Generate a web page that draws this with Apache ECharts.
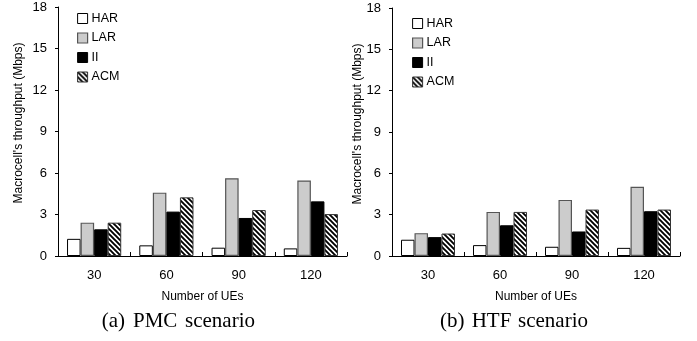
<!DOCTYPE html>
<html>
<head>
<meta charset="utf-8">
<script src="https://cdn.jsdelivr.net/npm/echarts@6/dist/echarts.min.js"></script>
<style>html,body{margin:0;padding:0;background:#fff}#c{width:697px;height:341px}</style>
</head>
<body>
<div id="c"></div>
<script>
// ---- data ----
const categories = ['30', '60', '90', '120'];
const seriesNames = ['HAR', 'LAR', 'II', 'ACM'];
const yTicks = [0, 3, 6, 9, 12, 15, 18];
// (a) PMC scenario
const pmcHAR = [1.24, 0.77, 0.60, 0.55];
const pmcLAR = [2.41, 4.58, 5.62, 5.46];
const pmcII  = [1.93, 3.21, 2.75, 3.95];
const pmcACM = [2.41, 4.24, 3.32, 3.03];
// (b) HTF scenario
const htfHAR = [1.18, 0.79, 0.67, 0.59];
const htfLAR = [1.66, 3.20, 4.07, 5.03];
const htfII  = [1.37, 2.23, 1.78, 3.25];
const htfACM = [1.63, 3.20, 3.37, 3.37];

function makeHatch() {
  const s = 5;
  const c = document.createElement('canvas');
  c.width = s; c.height = s;
  const g = c.getContext('2d');
  g.fillStyle = '#fff'; g.fillRect(0, 0, s, s);
  g.strokeStyle = '#000'; g.lineWidth = 1.9;
  g.beginPath();
  g.moveTo(-1, -1); g.lineTo(s + 1, s + 1);
  g.moveTo(-1, s - 1); g.lineTo(1, s + 1);
  g.moveTo(s - 1, -1); g.lineTo(s + 1, 1);
  g.stroke();
  return c;
}
const hatch = { image: makeHatch(), repeat: 'repeat' };

const styles = {
  HAR: { color: '#ffffff', borderColor: '#000', borderWidth: 1 },
  LAR: { color: '#cccccc', borderColor: '#555', borderWidth: 1.2 },
  II:  { color: '#000000', borderColor: '#000', borderWidth: 1 },
  ACM: { color: hatch, borderColor: '#333', borderWidth: 1 }
};

const FONT = 'Liberation Sans, Arial, sans-serif';
const SERIF = 'Liberation Serif, Times New Roman, serif';

function mkX(idx) {
  return {
    type: 'category', gridIndex: idx, data: categories,
    axisLine: { lineStyle: { color: '#000', width: 1 } },
    axisTick: { show: true, inside: true, length: 4, lineStyle: { color: '#000' } },
    axisLabel: { color: '#000', fontSize: 13, fontFamily: FONT, margin: 13 },
    splitLine: { show: false }
  };
}
function mkY(idx) {
  return {
    type: 'value', gridIndex: idx, min: yTicks[0], max: yTicks[yTicks.length - 1], interval: 3,
    axisLine: { show: true, lineStyle: { color: '#000', width: 1 } },
    axisTick: { show: true, inside: false, length: 3, lineStyle: { color: '#000' } },
    axisLabel: { color: '#000', fontSize: 13, fontFamily: FONT, margin: 11 },
    splitLine: { show: false }
  };
}
function mkSeries(idx, arrays) {
  return seriesNames.map((n, i) => ({
    name: n, type: 'bar', xAxisIndex: idx, yAxisIndex: idx,
    data: arrays[i], barGap: '0%', barCategoryGap: '25%',
    itemStyle: styles[n], emphasis: { disabled: true }, animation: false
  }));
}
function mkLegend(left, top) {
  return {
    orient: 'vertical', left: left, top: top, padding: 0,
    itemWidth: 10, itemHeight: 10, itemGap: 6.5, icon: 'rect',
    textStyle: { color: '#000', fontSize: 12.5, fontFamily: FONT, padding: [0, 0, 0, -1] },
    selectedMode: false,
    data: seriesNames.map(n => ({ name: n, itemStyle: styles[n] }))
  };
}

const chart = echarts.init(document.getElementById('c'), null, { renderer: 'canvas' });
chart.setOption({
  animation: false,
  backgroundColor: '#fff',
  grid: [
    { left: 58, right: 350, top: 7, bottom: 85 },
    { left: 392, right: 17, top: 8, bottom: 85 }
  ],
  xAxis: [mkX(0), mkX(1)],
  yAxis: [mkY(0), mkY(1)],
  legend: [mkLegend(77, 12), mkLegend(412, 17)],
  series: mkSeries(0, [pmcHAR, pmcLAR, pmcII, pmcACM]).concat(mkSeries(1, [htfHAR, htfLAR, htfII, htfACM])),
  graphic: [
    { type: 'text', x: 18.5, y: 123, rotation: Math.PI / 2,
      style: { text: "Macrocell's throughput (Mbps)", fill: '#000', font: '12px ' + FONT, align: 'center', verticalAlign: 'middle' } },
    { type: 'text', x: 358, y: 124, rotation: Math.PI / 2,
      style: { text: "Macrocell's throughput (Mbps)", fill: '#000', font: '12px ' + FONT, align: 'center', verticalAlign: 'middle' } },
    { type: 'text', x: 202.5, y: 297, style: { text: 'Number of UEs', fill: '#000', font: '12px ' + FONT, align: 'center', verticalAlign: 'middle' } },
    { type: 'text', x: 536, y: 297, style: { text: 'Number of UEs', fill: '#000', font: '12px ' + FONT, align: 'center', verticalAlign: 'middle' } },
    { type: 'text', x: 101.7, y: 321, style: { text: '(a)', fill: '#000', font: '21px ' + SERIF, align: 'left', verticalAlign: 'middle' } },
    { type: 'text', x: 133, y: 321, style: { text: 'PMC', fill: '#000', font: '21px ' + SERIF, align: 'left', verticalAlign: 'middle' } },
    { type: 'text', x: 185, y: 321, style: { text: 'scenario', fill: '#000', font: '21px ' + SERIF, align: 'left', verticalAlign: 'middle' } },
    { type: 'text', x: 440, y: 321, style: { text: '(b)', fill: '#000', font: '21px ' + SERIF, align: 'left', verticalAlign: 'middle' } },
    { type: 'text', x: 471.7, y: 321, style: { text: 'HTF', fill: '#000', font: '21px ' + SERIF, align: 'left', verticalAlign: 'middle' } },
    { type: 'text', x: 518, y: 321, style: { text: 'scenario', fill: '#000', font: '21px ' + SERIF, align: 'left', verticalAlign: 'middle' } }
  ]
});
</script>
</body>
</html>
